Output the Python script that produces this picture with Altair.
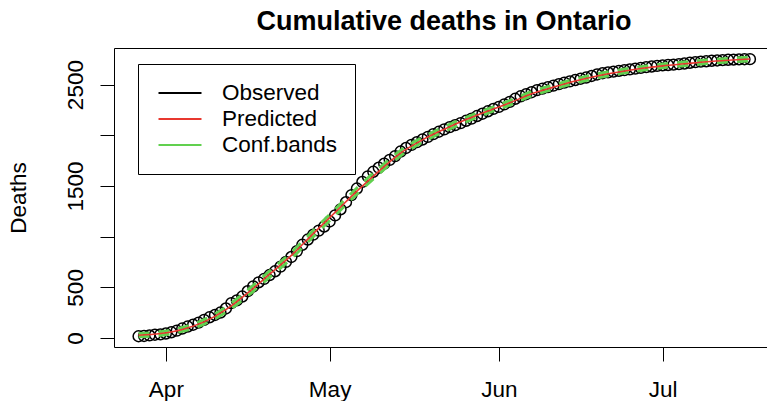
import altair as alt
import pandas as pd

# Daily cumulative COVID-19 deaths in Ontario, 27 Mar - 17 Jul 2020
obs_start, obs_end = "2020-03-27", "2020-07-17"
observed = [
    18, 21, 26, 33, 37,
    45, 57, 74, 94, 114, 132, 153, 180, 205, 228, 252, 292, 345, 372, 410,
    462, 510, 550, 584, 622, 659, 705, 752, 800, 858, 920, 972, 1020, 1060, 1100,
    1150, 1210, 1270, 1340, 1410, 1475, 1540, 1595, 1640, 1680, 1720, 1758, 1795,
    1840, 1875, 1905, 1932, 1958, 1985, 2012, 2035, 2058, 2080, 2100, 2120, 2143,
    2165, 2190, 2213, 2237, 2260,
    2280, 2305, 2330, 2360, 2385, 2405, 2425, 2445, 2460, 2475, 2490, 2505, 2520,
    2532, 2545, 2558, 2570, 2585, 2600, 2612, 2620, 2628, 2636, 2643, 2650, 2658,
    2665, 2672, 2678, 2685,
    2690, 2693, 2697, 2702, 2708, 2715, 2722, 2727, 2730, 2735, 2738, 2741, 2745,
    2747, 2749, 2750, 2751,
]

# Fitted curve and its confidence bands, every fourth day
predicted = [28, 45, 85, 160, 280, 445, 630, 815, 1030, 1240, 1450, 1645, 1825, 1955,
             2060, 2155, 2240, 2320, 2410, 2475, 2535, 2585, 2625, 2658, 2685, 2705,
             2725, 2740, 2752]
lower = [12, 28, 66, 138, 254, 417, 600, 785, 1000, 1210, 1420, 1617, 1799, 1931,
         2037, 2133, 2219, 2299, 2389, 2455, 2515, 2565, 2606, 2640, 2667, 2687,
         2707, 2722, 2733]
upper = [44, 62, 104, 182, 306, 473, 660, 845, 1060, 1270, 1480, 1673, 1851, 1979,
         2083, 2177, 2261, 2341, 2431, 2495, 2555, 2605, 2644, 2676, 2703, 2723,
         2743, 2758, 2771]

series = ["Observed", "Predicted", "Conf.bands"]
series_colors = ["black", "#E8382F", "#61D04F"]
y_ticks = [0, 500, 1000, 1500, 2000, 2500]

FONT = "Liberation Sans"
fmt = "%Y-%m-%dT00:00:00"
obs_dates = pd.date_range(obs_start, obs_end, freq="D").strftime(fmt).tolist()
fit_dates = pd.date_range(obs_start, obs_end, freq="4D").strftime(fmt).tolist()

obs_df = pd.DataFrame({"date": obs_dates, "deaths": observed, "series": "Observed"})
pred_df = pd.DataFrame({"date": fit_dates, "deaths": predicted, "series": "Predicted"})
band_df = pd.concat([
    pd.DataFrame({"date": fit_dates, "deaths": lower, "series": "Conf.bands", "bound": "lower"}),
    pd.DataFrame({"date": fit_dates, "deaths": upper, "series": "Conf.bands", "bound": "upper"}),
])

x_scale = alt.Scale(
    domain=[alt.DateTime(year=2020, month=3, date=22, hours=12),
            alt.DateTime(year=2020, month=7, date=20, hours=3)],
    nice=False,
)
month_ticks = [alt.DateTime(year=2020, month=m, date=1) for m in (4, 5, 6, 7)]
y_scale = alt.Scale(domain=[-88, 2861], nice=False, zero=False)

color = alt.Color(
    "series:N",
    scale=alt.Scale(domain=series, range=series_colors),
    title=None,
    legend=alt.Legend(
        orient="none", legendX=24, legendY=16,
        symbolType="M-2,0H2", symbolSize=462, symbolStrokeWidth=2,
        symbolDash=[1, 0], symbolOffset=13, labelOffset=30,
        padding=17, rowPadding=2,
        strokeColor="black", fillColor="white",
        labelFont=FONT, labelFontSize=22.5, labelColor="black",
    ),
)

# Bottom date axis, and a bare top axis that closes the frame
x_bottom = alt.X(
    "date:T", scale=x_scale, title=None,
    axis=alt.Axis(values=month_ticks, format="%b", labelAlign="center",
                  labelBaseline="alphabetic", labelPadding=35, tickSize=14),
)
x_plain = alt.X("date:T", scale=x_scale, title=None, axis=None)
x_top = alt.X(
    "date:T", scale=x_scale, title=None,
    axis=alt.Axis(orient="top", labels=False, ticks=False, domain=True),
)
y_enc = alt.Y(
    "deaths:Q", scale=y_scale,
    axis=alt.Axis(values=y_ticks, format="d", tickSize=14, labelAngle=270,
                  labelAlign="center", labelBaseline="alphabetic", labelPadding=18,
                  labelExpr="datum.value == 1000 || datum.value == 2000 ? '' : datum.label",
                  title="Deaths", titleAngle=270, titleX=-89, titleY=149.5,
                  titleAlign="center", titleBaseline="alphabetic"),
)

points = alt.Chart(obs_df).mark_point(
    shape="circle", filled=False, size=118, strokeWidth=1.5, opacity=1
).encode(x=x_bottom, y=y_enc, color=color)

bands = alt.Chart(band_df).mark_line(
    strokeWidth=3, strokeDash=[11, 9], interpolate="monotone"
).encode(x=x_plain, y=y_enc, color=color, detail="bound:N")

fit = alt.Chart(pred_df).mark_line(
    strokeWidth=1.6, interpolate="monotone"
).encode(x=x_top, y=y_enc, color=color)

chart = alt.layer(points, bands, fit).resolve_axis(
    x="independent"
).properties(
    width=653,
    height=299,
    title=alt.TitleParams(
        "Cumulative deaths in Ontario", font=FONT, fontSize=27, fontWeight="bold",
        color="black", anchor="middle", baseline="alphabetic", offset=17, dy=26, dx=3.5,
    ),
    autosize=alt.AutoSizeParams(type="none"),
    padding={"left": 114, "top": 48, "right": 0, "bottom": 54},
    background="white",
).configure_view(
    stroke="transparent"
).configure_axis(
    grid=False,
    domainColor="black", domainWidth=1,
    tickColor="black", tickWidth=1,
    labelFont=FONT, labelFontSize=22.5, labelColor="black",
    titleFont=FONT, titleFontSize=22.5, titleColor="black", titleFontWeight="normal",
)

chart.save("out.html", embed_options={"renderer": "svg", "actions": False})
